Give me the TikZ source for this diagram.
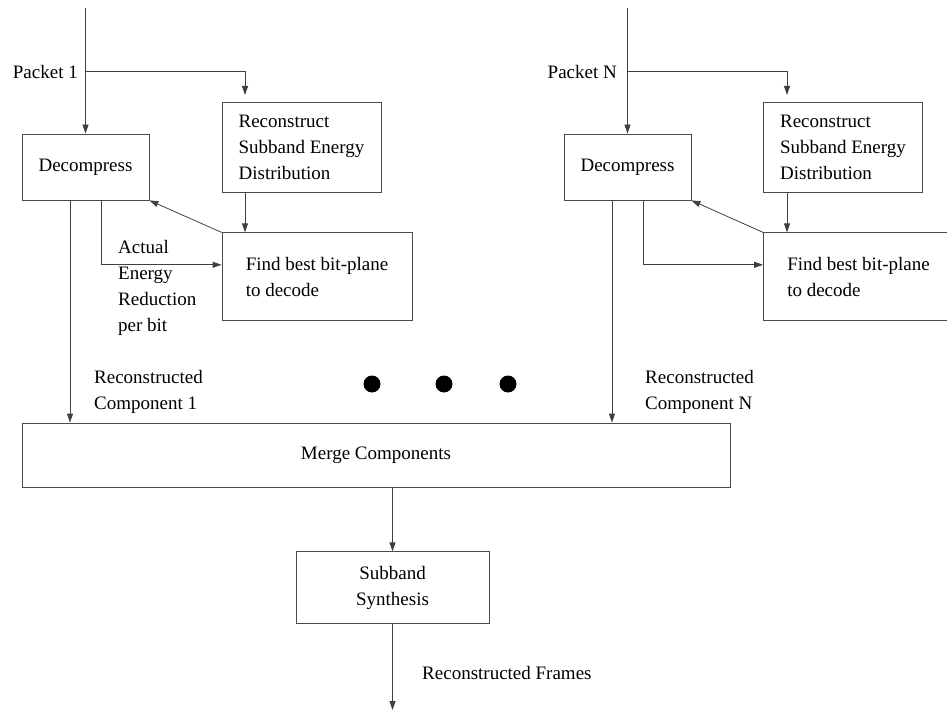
\documentclass[tikz,border=0pt]{standalone}
\usepackage{fontspec}
\setmainfont{Liberation Serif}
\usetikzlibrary{arrows.meta, positioning, calc}

\begin{document}
\begin{tikzpicture}[
        x=1pt, y=-1pt,
        font=\fontsize{19}{26}\selectfont,
        block/.style={rectangle, draw=black!70, line width=0.8pt, fill=none, align=center},
        decomp/.style={block, minimum width=127pt, minimum height=66pt},
        energy/.style={block, align=left, minimum width=159pt, minimum height=90pt},
        findbp/.style={block, align=left, minimum width=190pt, minimum height=88pt},
        merger/.style={block, minimum width=708pt, minimum height=64pt},
        synth/.style={block, minimum width=193pt, minimum height=72pt},
        lbl/.style={align=left, inner sep=0pt},
        arrow/.style={-{Triangle[length=9pt,width=6pt]}, draw=black!75, line width=0.8pt},
        dot/.style={circle, fill=black, inner sep=0pt, minimum size=17pt}
    ]
        \useasboundingbox (0,0) rectangle (947,711);

        % packet 1
        \node[decomp] (dec1) at (85.5,167) {Decompress};
        \node[energy] (rec1) at (301.5,147) {Reconstruct\\Subband Energy\\Distribution};
        \node[findbp, below=40pt of rec1.south west, anchor=north west] (find1) {Find best bit-plane\\to decode};

        % packet N
        \node[decomp] (decN) at (627.5,167) {Decompress};
        \node[energy] (recN) at (843,147) {Reconstruct\\Subband Energy\\Distribution};
        \node[findbp, below=40pt of recN.south west, anchor=north west] (findN) {Find best bit-plane\\to decode};

        \node[merger] (merge) at (376,455) {Merge Components};
        \node[synth, below=64pt of merge, xshift=16.5pt] (sub) {Subband\\Synthesis};

        \foreach \i/\x in {1/372, 2/444, 3/508}
            \node[dot] (d\i) at (\x,384) {};

        % labels
        \node[lbl, anchor=east] (pk1) at (78,72) {Packet 1};
        \node[lbl, anchor=east] (pkN) at (617,72) {Packet N};
        \node[lbl, anchor=west] (aer) at (118,288) {Actual\\Energy\\Reduction\\per bit};
        \node[lbl, anchor=west] (rc1) at (94,392) {Reconstructed\\Component 1};
        \node[lbl, anchor=west] (rcN) at (645,392) {Reconstructed\\Component N};
        \node[lbl, anchor=west] (rfr) at (422,673) {Reconstructed Frames};

        \coordinate (in1) at (85.5,8);
        \coordinate (fork1) at (85.5,71);
        \coordinate (tip1) at (245,95);
        \coordinate (inN) at (627.5,8);
        \coordinate (forkN) at (627.5,71);
        \coordinate (tipN) at (787,95);
        \coordinate (out) at (392.5,710);

        \draw[arrow] (in1) -- (dec1);
        \draw[arrow] (fork1) -| (tip1);
        \draw[arrow] (tip1 |- rec1.south) -- (tip1 |- find1.north);
        \draw[arrow] (find1.north west) -- (dec1.south east);
        \draw[arrow] ([xshift=15.5pt]dec1.south) |- ([yshift=12pt]find1.west);
        \draw[arrow] ([xshift=-15.5pt]dec1.south) -- ([xshift=-15.5pt]dec1.south |- merge.north);

        \draw[arrow] (inN) -- (decN);
        \draw[arrow] (forkN) -| (tipN);
        \draw[arrow] (tipN |- recN.south) -- (tipN |- findN.north);
        \draw[arrow] (findN.north west) -- (decN.south east);
        \draw[arrow] ([xshift=15.5pt]decN.south) |- ([yshift=12pt]findN.west);
        \draw[arrow] ([xshift=-15.5pt]decN.south) -- ([xshift=-15.5pt]decN.south |- merge.north);

        \draw[arrow] (merge.south -| sub.north) -- (sub.north);
        \draw[arrow] (sub) -- (out);
    \end{tikzpicture}
\end{document}
